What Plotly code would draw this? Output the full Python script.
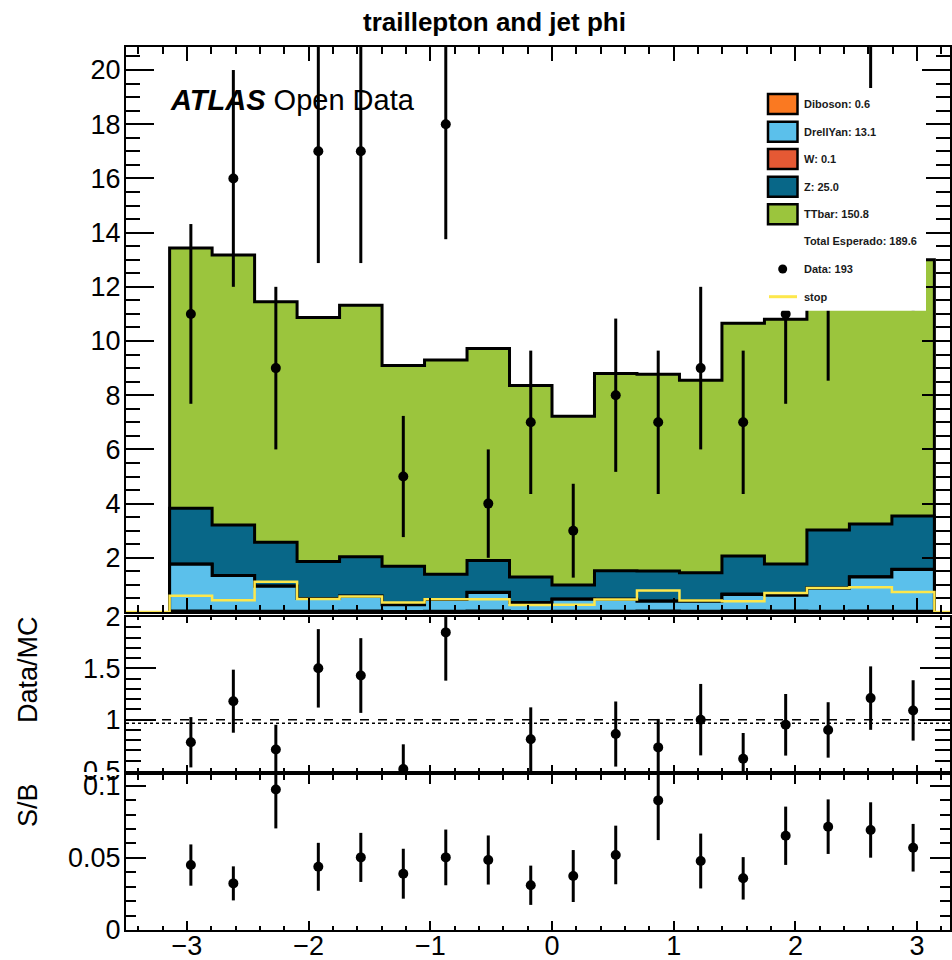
import numpy as np
import plotly.graph_objects as go

# ---------------- data ----------------
n_bins = 18
x_min, x_max = -3.5, 3.27

diboson  = [0.04, 0.03, 0.03, 0.03, 0.04, 0.02, 0.03, 0.04, 0.02, 0.03, 0.03, 0.04, 0.03, 0.05, 0.04, 0.03, 0.04, 0.03]
drellyan = [1.72, 1.32, 0.92, 0.47, 0.54, 0.25, 0.43, 0.68, 0.33, 0.44, 0.44, 0.36, 0.37, 0.60, 0.58, 0.85, 1.25, 1.54]
w_bkg    = [0.01, 0.00, 0.01, 0.00, 0.01, 0.00, 0.00, 0.01, 0.00, 0.01, 0.00, 0.01, 0.00, 0.01, 0.00, 0.01, 0.01, 0.01]
z_bkg    = [2.06, 1.86, 1.61, 1.36, 1.45, 1.42, 0.93, 1.17, 0.94, 0.52, 1.05, 1.10, 1.05, 1.41, 1.15, 2.14, 1.95, 1.96]
ttbar    = [9.60, 9.96, 8.88, 9.01, 9.28, 7.41, 7.91, 7.82, 7.07, 6.22, 7.28, 7.26, 7.10, 8.59, 9.03, 9.27, 9.75, 9.46]
stop     = [0.60, 0.43, 1.12, 0.48, 0.57, 0.35, 0.47, 0.47, 0.26, 0.27, 0.46, 0.79, 0.42, 0.40, 0.70, 0.89, 0.91, 0.74]
data     = [11, 16, 9, 17, 17, 5, 18, 4, 7, 3, 8, 7, 9, 7, 11, 12, 17, 15]

ratio     = [0.78, 1.18, 0.71, 1.50, 1.43, 0.52, 1.85, None, 0.81, None, 0.86, 0.73, 1.00, 0.62, 0.95, 0.90, 1.21, 1.09]
ratio_err = [0.245, 0.307, 0.24, 0.382, 0.364, 0.24, 0.47, None, 0.31, None, 0.317, 0.277, 0.348, 0.25, 0.30, 0.27, 0.309, 0.294]
sb        = [0.045, 0.0323, 0.0974, 0.0438, 0.0503, 0.039, 0.0503, 0.0485, 0.031, 0.0374, 0.052, 0.0898, 0.0478, 0.0358, 0.0653, 0.0716, 0.0693, 0.057]
sb_err    = [0.0143, 0.0118, 0.027, 0.0166, 0.017, 0.0173, 0.0193, 0.017, 0.0136, 0.018, 0.0203, 0.0275, 0.019, 0.0147, 0.0202, 0.0189, 0.0192, 0.0165]
global_ratio = 0.965

legend_labels = ["Diboson: 0.6", "DrellYan: 13.1", "W: 0.1", "Z: 25.0", "TTbar: 150.8"]
legend_extra = ["Total Esperado: 189.6", "Data: 193", "stop"]
title_text = "traillepton and jet phi"

# ---------------- styles ----------------
C_DIB, C_DY, C_W, C_Z, C_TT, C_STOP = "#FA7921", "#5BC0EB", "#E55934", "#086788", "#9BC53D", "#FDE74C"
FONT = "Liberation Sans, Arial, Helvetica, sans-serif"

W, H = 952, 960
ML, MR, MT, MB = 126, 2, 47, 30
PW, PH = W - ML - MR, H - MT - MB


def pxx(x):
    return (x - ML) / PW


def pyy(y):
    return (H - MB - y) / PH


edges = np.linspace(-np.pi, np.pi, n_bins + 1)
centers = 0.5 * (edges[:-1] + edges[1:])

fig = go.Figure()


def step_xy(vals):
    xs = [edges[0]] + list(edges[:-1]) + [edges[-1]]
    ys = [0.0] + list(vals) + [0.0]
    return xs, ys


cum = np.zeros(n_bins)
layers = []
for vals, col in [(diboson, C_DIB), (drellyan, C_DY), (w_bkg, C_W), (z_bkg, C_Z), (ttbar, C_TT)]:
    cum = cum + np.array(vals)
    layers.append((cum.copy(), col))

for vals, col in reversed(layers):
    xs, ys = step_xy(vals)
    fig.add_trace(go.Scatter(x=xs, y=ys, mode="lines", line=dict(shape="hv", color="black", width=3),
                             fill="tozeroy", fillcolor=col, xaxis="x", yaxis="y", hoverinfo="skip"))

# stop line (not stacked)
sx = [x_min] + list(edges[:-1]) + [edges[-1], x_max]
sy = [0.0] + list(stop) + [0.0, 0.0]
fig.add_trace(go.Scatter(x=sx, y=sy, mode="lines", line=dict(shape="hv", color=C_STOP, width=2.5),
                         xaxis="x", yaxis="y"))

# data
fig.add_trace(go.Scatter(x=centers, y=data, mode="markers", marker=dict(color="black", size=10),
                         error_y=dict(type="data", array=np.sqrt(data), color="black", thickness=3, width=0),
                         xaxis="x", yaxis="y"))

# ratio
fig.add_trace(go.Scatter(x=centers, y=ratio, mode="markers", marker=dict(color="black", size=10),
                         error_y=dict(type="data", array=ratio_err, color="black", thickness=3, width=0),
                         xaxis="x2", yaxis="y2"))
# S/B
fig.add_trace(go.Scatter(x=centers, y=sb, mode="markers", marker=dict(color="black", size=10),
                         error_y=dict(type="data", array=sb_err, color="black", thickness=3, width=0),
                         xaxis="x3", yaxis="y3"))

tickfont = dict(family=FONT, size=27, color="black")


def xax(anchor, ticklen, minorlen, labels):
    d = dict(domain=[0, 1], range=[x_min, x_max], anchor=anchor, showline=True, linecolor="black",
             linewidth=2, mirror="allticks", ticks="inside", ticklen=ticklen, tickwidth=1.5,
             tickcolor="black", tickmode="array", tickvals=[-3, -2, -1, 0, 1, 2, 3],
             showticklabels=labels, tickfont=tickfont, showgrid=False, zeroline=False,
             ticklabelstandoff=-9,
             minor=dict(dtick=0.2, tick0=0, ticks="inside", ticklen=minorlen, tickwidth=1.5,
                        tickcolor="black", showgrid=False))
    return d


def yax(anchor, domain, rng, tv, tt, dminor, ticklen, minorlen):
    return dict(domain=domain, range=rng, anchor=anchor, showline=True, linecolor="black", linewidth=2,
                mirror="allticks", ticks="inside", ticklen=ticklen, tickwidth=1.5, tickcolor="black",
                tickmode="array", tickvals=tv, ticktext=tt, tickfont=tickfont, showgrid=False,
                zeroline=False, ticklabelstandoff=-2,
                minor=dict(dtick=dminor, tick0=0, ticks="inside", ticklen=minorlen, tickwidth=1.5,
                           tickcolor="black", showgrid=False))


main_ticks = list(range(0, 21, 2))
fig.update_layout(
    xaxis=xax("y", 14, 7, False),
    xaxis2=xax("y2", 6, 3, False),
    xaxis3=xax("y3", 9, 4.5, True),
    yaxis=yax("x", [pyy(612), 1], [0, 20.85], main_ticks, [""] + [str(v) for v in main_ticks[1:]], 0.5, 28, 14),
    yaxis2=yax("x2", [pyy(771), pyy(617)], [0.5, 2.0], [0.5, 1, 1.5, 2], ["0.5", "1", "1.5", "2"], 0.1, 30, 15),
    yaxis3=yax("x3", [0, pyy(775)], [0, 0.1074], [0, 0.05, 0.1], ["0", "0.05", "0.1"], 0.01, 20, 10),
)

shapes = [
    dict(type="line", xref="x2 domain", yref="y2", x0=0, x1=1, y0=1, y1=1, line=dict(color="black", width=1.5, dash="dash")),
    dict(type="line", xref="x2 domain", yref="y2", x0=0, x1=1, y0=global_ratio, y1=global_ratio, line=dict(color="black", width=1.5, dash="dot")),
    # legend background
    dict(type="rect", xref="paper", yref="paper", x0=pxx(755), x1=pxx(926), y0=pyy(310.7), y1=pyy(88),
         fillcolor="white", line=dict(width=0), layer="above"),
    # cut of the 0.5 label
    dict(type="rect", xref="paper", yref="paper", x0=pxx(40), x1=pxx(123), y0=pyy(775), y1=pyy(772),
         fillcolor="white", line=dict(width=0), layer="above"),
]
annotations = []
row_y = [104, 131.7, 159, 186.7, 214.3, 241.3, 269, 296.7]
for i, (lab, col) in enumerate(zip(legend_labels, [C_DIB, C_DY, C_W, C_Z, C_TT])):
    y = row_y[i]
    shapes.append(dict(type="rect", xref="paper", yref="paper", x0=pxx(768), x1=pxx(797.5), y0=pyy(y + 10), y1=pyy(y - 10),
                       fillcolor=col, line=dict(color="black", width=2.5), layer="above"))
for i, lab in enumerate(legend_labels + legend_extra):
    annotations.append(dict(text="<b>" + lab + "</b>", xref="paper", yref="paper", x=pxx(802), y=pyy(row_y[i]),
                            xanchor="left", yanchor="middle", showarrow=False,
                            font=dict(family=FONT, size=11, color="#1a1a1a")))
shapes.append(dict(type="circle", xref="paper", yref="paper", x0=pxx(778.2), x1=pxx(787.2), y0=pyy(row_y[6] + 4.5), y1=pyy(row_y[6] - 4.5),
                   fillcolor="black", line=dict(color="black", width=0), layer="above"))
shapes.append(dict(type="line", xref="paper", yref="paper", x0=pxx(769), x1=pxx(797), y0=pyy(row_y[7]), y1=pyy(row_y[7]),
                   line=dict(color=C_STOP, width=3), layer="above"))

annotations += [
    dict(text="<b><i>ATLAS</i></b> Open Data", xref="paper", yref="paper", x=pxx(168), y=pyy(100),
         xanchor="left", yanchor="middle", showarrow=False, font=dict(family=FONT, size=29, color="black")),
    dict(text="<b>" + title_text + "</b>", xref="paper", yref="paper", x=pxx(494), y=pyy(22),
         xanchor="center", yanchor="middle", showarrow=False, font=dict(family=FONT, size=26, color="black")),
    dict(text="Data/MC", xref="paper", yref="paper", x=pxx(28), y=pyy(670), textangle=-90,
         xanchor="center", yanchor="middle", showarrow=False, font=dict(family=FONT, size=27, color="black")),
    dict(text="S/B", xref="paper", yref="paper", x=pxx(28), y=pyy(805), textangle=-90,
         xanchor="center", yanchor="middle", showarrow=False, font=dict(family=FONT, size=27, color="black")),
]

fig.update_layout(width=W, height=H, margin=dict(l=ML, r=MR, t=MT, b=MB, autoexpand=False),
                  plot_bgcolor="white", paper_bgcolor="white", showlegend=False,
                  shapes=shapes, annotations=annotations)

fig.write_html("out.html")
